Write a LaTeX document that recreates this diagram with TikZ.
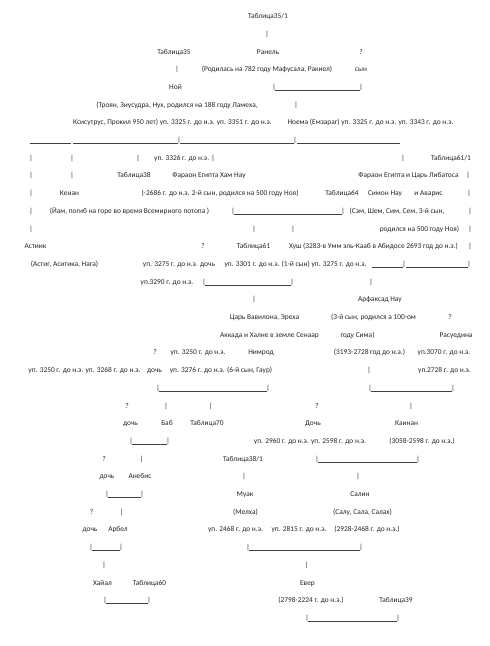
\documentclass[tikz,border=0pt]{standalone}
\usepackage{fontspec}
\setmainfont{Carlito}
\newcounter{nd}
\tikzset{lbl/.style={inner sep=0pt,anchor=base,font=\fontsize{7.4}{9}\selectfont,text=black!85},
uline/.style={line width=0.4pt,draw=black!75}}
\newcommand\T[3]{\stepcounter{nd}\node[lbl] (n\thend) at ({#1},{-18.6-(#2-1)*17.7}) {#3};}
\newcommand\Pp[2]{\T{#1}{#2}{|}}
\newcommand\Ln[3]{\stepcounter{nd}\coordinate (a\thend) at ({#1},{-19.5-(#3-1)*17.7});\coordinate (b\thend) at ({#2},{-19.5-(#3-1)*17.7});\draw[uline] (a\thend) -- (b\thend);}
\newcommand\Ub[3]{\Pp{#1+1}{#3}\Pp{#2-1}{#3}\Ln{#1+1.6}{#2-1.6}{#3}}
\begin{document}
\begin{tikzpicture}[x=1pt,y=1pt]
\fill[white] (0,0) rectangle (490,-646);
\useasboundingbox (0,0) rectangle (490,-646);
% row 1-6
\T{268}{1}{Таблица35/1}
\Pp{267}{2}
\T{174}{3}{Таблица35}\T{268}{3}{Ранель}\T{361}{3}{?}
\Pp{177}{4}\T{267}{4}{(Родилась на 782 году Мафусала, Ракиел)}\T{361}{4}{сын}
\T{175.5}{5}{Ной}\Ub{273}{362}{5}
\T{177}{6}{(Троян, Зиусудра, Нух, родился на 188 году Ламеха,}\Pp{296}{6}
% row 7-8
\T{172.5}{7}{Ксисутрус, Прокил 950 лет) уп. 3325 г. до н.э. уп. 3351 г. до н.э.}
\T{370.5}{7}{Ноема (Емзараг) уп. 3325 г. до н.э. уп. 3343 г. до н.э.}
\Ln{30}{71}{8}\Ln{73}{178}{8}\Pp{179}{8}\Ln{180}{294}{8}\Pp{295}{8}\Ln{297}{400}{8}
% row 9-13
\Pp{31}{9}\Pp{72}{9}\Pp{138}{9}\T{184.5}{9}{уп. 3326 г. до н.э. |}\Pp{403}{9}\T{451}{9}{Таблица61/1}
\Pp{31}{10}\Pp{72}{10}\T{134}{10}{Таблица38}\T{209}{10}{Фараон Египта Хам Нау}\T{408.5}{10}{Фараон Египта и Царь Либатоса}\Pp{468}{10}
\Pp{31}{11}\T{69.5}{11}{Кенан}\T{220}{11}{(-2686 г. до н.э. 2-й сын, родился на 500 году Ноя)}\T{342}{11}{Таблица64}\T{385}{11}{Симон Нау}\T{428.5}{11}{и Аварис}\Pp{469}{11}
\Pp{31}{12}\T{129.5}{12}{(Йам, погиб на горе во время Всемирного потопа )}\Ub{232}{344}{12}\T{397}{12}{(Сэм, Шем, Сим, Сем, 3-й сын,}\Pp{470}{12}
\Pp{31}{13}\Pp{254}{13}\Pp{293}{13}\T{419.5}{13}{родился на 500 году Ноя)}\Pp{470}{13}
% row 14-17
\T{35.5}{14}{Астиик}\T{203}{14}{?}\T{253.5}{14}{Таблица61}\T{373.5}{14}{Хуш (3283-в Умм эль-Кааб в Абидосе 2693 год до н.э.)}\Pp{470}{14}
\T{64.5}{15}{(Астиг, Аситика, Нага)}\T{179}{15}{уп. 3275 г. до н.э. дочь}\T{295.5}{15}{уп. 3301 г. до н.э. (1-й сын) уп. 3275 г. до н.э.}
\Ln{372}{403}{15}\Pp{404}{15}\Ln{405.5}{467.5}{15}\Pp{469}{15}
\T{167}{16}{уп.3290 г. до н.э.}\Ub{203}{293}{16}\Pp{371}{16}
\Pp{254}{17}\T{380}{17}{Арфаксад Нау}
% row 18-22
\T{264.5}{18}{Царь Вавилона, Эреха}\T{373.5}{18}{(3-й сын, родился а 100-ом}\T{450}{18}{?}
\T{269.5}{19}{Аккада и Халне в земле Сенаар}\T{357.5}{19}{году Сима)}\T{456}{19}{Расуедина}
\T{155}{20}{?}\T{198}{20}{уп. 3250 г. до н.э.}\T{261}{20}{Нимрод}\T{369.5}{20}{(3193-2728 год до н.э.)}\T{444}{20}{уп.3070 г. до н.э.}
\T{84.5}{21}{уп. 3250 г. до н.э. уп. 3268 г. до н.э.}\T{154.5}{21}{дочь}\T{221}{21}{уп. 3276 г. до н.э. (6-й сын, Гаур)}\Pp{369}{21}\T{444.5}{21}{уп.2728 г. до н.э.}
\Ub{157}{269}{22}\Ub{369}{454}{22}
% row 23-28
\T{127}{23}{?}\Pp{166}{23}\Pp{210.5}{23}\T{317}{23}{?}\Pp{411}{23}
\T{130.5}{24}{дочь}\T{167}{24}{Баб}\T{207}{24}{Таблица70}\T{313}{24}{Дочь}\T{406.5}{24}{Каинан}
\Ub{130}{169}{25}\T{310}{25}{уп. 2960 г. до н.э. уп. 2598 г. до н.э.}\T{422}{25}{(3058-2598 г. до н.э.)}
\T{104}{26}{?}\Pp{141.5}{26}\T{243}{26}{Таблица38/1}\Ub{316}{419}{26}
\T{107}{27}{дочь}\T{140}{27}{Анебис}\Pp{244}{27}\Pp{358}{27}
\Ub{106}{143}{28}\T{245}{28}{Муак}\T{360}{28}{Салин}
% row 29-35
\T{91.5}{29}{?}\Pp{121.5}{29}\T{245.5}{29}{(Мелха)}\T{362.5}{29}{(Салу, Сала, Салах)}
\T{90}{30}{дочь}\T{118}{30}{Арбел}\T{235.5}{30}{уп. 2468 г. до н.э.}\T{299}{30}{уп. 2815 г. до н.э.}\T{367}{30}{(2928-2468 г. до н.э.)}
\Ub{90}{122}{31}\Ub{247}{362}{31}
\Pp{104}{32}\Pp{306.5}{32}
\T{102.5}{33}{Хайал}\T{149.5}{33}{Таблица60}\T{307.5}{33}{Евер}
\Ub{104}{150}{34}\T{311}{34}{(2798-2224 г. до н.э.)}\T{396}{34}{Таблица39}
\Ub{306}{399}{35}
\end{tikzpicture}
\end{document}
